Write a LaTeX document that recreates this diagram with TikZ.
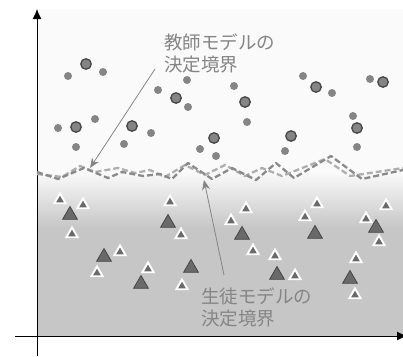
\documentclass[tikz,border=0pt]{standalone}
\usepackage{fontspec}
\newfontfamily\jpfont{Noto Sans CJK JP}
\usetikzlibrary{shapes.geometric,arrows.meta}

\definecolor{fonsclar}{HTML}{FAFAFA}
\definecolor{fonsgris}{HTML}{C6C6C6}
\definecolor{puntgris}{HTML}{858585}
\definecolor{voragris}{HTML}{464646}
\definecolor{trifosc}{HTML}{6A6A6A}
\definecolor{textgris}{HTML}{858585}
\definecolor{liniafosca}{HTML}{8A8A8A}
\definecolor{liniaclara}{HTML}{AEAEAE}

\tikzset{
  bigdot/.style={circle, fill=puntgris, draw=voragris, line width=1.3pt, inner sep=0pt, minimum size=10.5pt},
  smalldot/.style={circle, fill=puntgris, inner sep=0pt, minimum size=8pt},
  bigtri/.style={regular polygon, regular polygon sides=3, fill=trifosc, draw=voragris, line width=0.8pt, inner sep=0pt, minimum size=17pt, yshift=-2pt},
  smalltri/.style={regular polygon, regular polygon sides=3, fill=trifosc, draw=white, line width=1.9pt, inner sep=0pt, minimum size=13pt, yshift=-2pt},
  etiqueta/.style={anchor=west, align=left, inner sep=0pt, text=textgris, font=\jpfont\fontsize{18.5}{22}\selectfont},
  fletxa/.style={-{Stealth[length=10pt,width=8pt]}, draw=textgris, line width=0.8pt},
  frontera/.style={dashed, dash pattern=on 6pt off 3pt, line width=2.3pt, line join=round}
}

\begin{document}
\begin{tikzpicture}[x=1pt, y=-1pt]
    \useasboundingbox (0,0) rectangle (403,356);

    % Fons: zona clara a dalt, degradat i zona grisa a baix
    \fill[fonsclar] (37,9) rectangle (403,172);
    \shade[top color=fonsclar, bottom color=fonsgris] (37,172) rectangle (403,228);
    \fill[fonsgris] (37,228) rectangle (403,336);

    % Eixos
    \draw[line width=1pt, -{Latex[length=10pt,width=9pt]}] (37,356) -- (37,9);
    \draw[line width=1pt, -{Latex[length=10pt,width=9pt]}] (15,336) -- (407,336);

    % Fronteres de decisio (dues linies en ziga-zaga)
    \draw[frontera, liniaclara] (37,174) -- (62,177) -- (80,166) -- (95,172) -- (118,168) -- (135,173)
        -- (150,170) -- (165,177) -- (185,165) -- (205,175) -- (225,165) -- (245,176) -- (262,168)
        -- (282,176) -- (325,159) -- (350,176) -- (403,168);
    \draw[frontera, liniafosca] (37,172) -- (58,179) -- (84,168) -- (108,178) -- (122,172) -- (143,176)
        -- (160,174) -- (172,179) -- (188,163) -- (212,179) -- (232,168) -- (256,180) -- (276,163)
        -- (294,178) -- (331,156) -- (362,179) -- (403,170);

    % Punts de la classe de dalt
    \foreach \x/\y [count=\i] in {68/76, 103/72, 58/128, 95/119, 76/147, 124/144, 151/133, 158/90,
        187/80, 188/107, 200/149, 216/156, 234/86, 247/122, 285/151, 303/76, 332/93, 353/116,
        357/147, 370/79}
        \node[smalldot] (sd\i) at (\x,\y) {};
    \foreach \x/\y [count=\i] in {86/64, 76/127, 132/126, 176/98, 214/138, 245/102, 291/136,
        316/87, 357/128, 383/82}
        \node[bigdot] (bd\i) at (\x,\y) {};

    % Triangles de la classe de baix
    \foreach \x/\y [count=\i] in {60/198, 83/203, 72/232, 120/250, 97/271, 148/267, 170/200,
        181/233, 182/284, 231/219, 246/207, 253/249, 275/254, 295/274, 305/215, 317/202,
        356/257, 355/293, 366/217, 386/204, 379/240}
        \node[smalltri] (st\i) at (\x,\y) {};
    \foreach \x/\y [count=\i] in {70/213, 104/255, 141/282, 168/221, 191/266, 242/233, 277/273,
        315/232, 350/277, 376/226}
        \node[bigtri] (bt\i) at (\x,\y) {};

    % Etiquetes
    \node[etiqueta] (teacher) at (164,53) {教師モデルの\\決定境界};
    \node[etiqueta] (student) at (201,307) {生徒モデルの\\決定境界};

    % Fletxes cap a les fronteres
    \coordinate (teacherfrom) at (155,69);
    \coordinate (teacherto) at (90,168);
    \coordinate (studentfrom) at (224,275);
    \coordinate (studentto) at (204,180);
    \draw[fletxa] (teacherfrom) -- (teacherto);
    \draw[fletxa] (studentfrom) -- (studentto);
\end{tikzpicture}
\end{document}
